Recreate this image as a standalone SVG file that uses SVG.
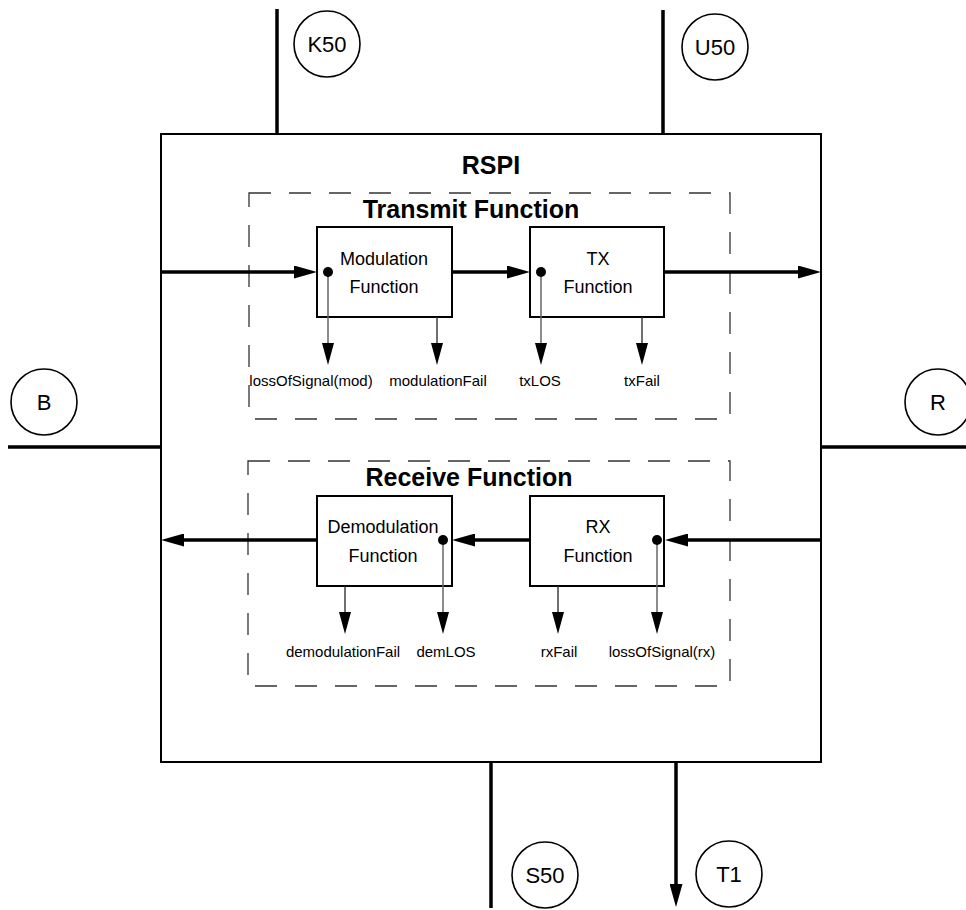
<svg xmlns="http://www.w3.org/2000/svg" width="966" height="910" viewBox="0 0 966 910">
<style>
  text { font-family: "Liberation Sans", Arial, sans-serif; fill: #000; }
  .title { font-size: 25px; font-weight: bold; text-anchor: middle; }
  .fn { font-size: 18px; text-anchor: middle; }
  .sig { font-size: 15px; text-anchor: middle; }
  .port { font-size: 22px; text-anchor: middle; }
  .main { fill: #fff; stroke: #000; stroke-width: 2; }
  .group { fill: none; stroke: #333; stroke-width: 1.3; stroke-dasharray: 22 18; }
  .box { fill: #fff; stroke: #000; stroke-width: 2; }
  .circ { fill: #fff; stroke: #000; stroke-width: 1.6; }
  .thick { stroke: #000; stroke-width: 3.5; fill: none; }
  .thin { stroke: #333; stroke-width: 1.4; fill: none; }
  .thing { stroke: #666; stroke-width: 1.5; fill: none; }
  .dot { fill: #000; }
</style>
<defs>
  <marker id="bigHead" markerUnits="userSpaceOnUse" viewBox="0 0 23 13" refX="0" refY="6.5" markerWidth="23" markerHeight="13" orient="auto">
    <path d="M0,0 L23,6.5 L0,13 z" fill="#000"/>
  </marker>
  <marker id="smallHead" markerUnits="userSpaceOnUse" viewBox="0 0 22 12" refX="0" refY="6" markerWidth="22" markerHeight="12" orient="auto">
    <path d="M0,0 L22,6 L0,12 z" fill="#000"/>
  </marker>
</defs>

<g id="rspi">
  <rect class="main" x="161" y="134" width="660" height="628"/>
  <text class="title" x="491" y="174">RSPI</text>
</g>

<g id="transmit-group">
  <rect class="group" x="249" y="193" width="481" height="226"/>
  <text class="title" x="471" y="218">Transmit Function</text>
</g>

<g id="receive-group">
  <rect class="group" x="248" y="461" width="482" height="225"/>
  <text class="title" x="469" y="486">Receive Function</text>
</g>

<g id="modulation">
  <rect class="box" x="317" y="227" width="135" height="90"/>
  <text class="fn" x="384" y="265">Modulation</text>
  <text class="fn" x="384" y="293">Function</text>
</g>

<g id="tx">
  <rect class="box" x="530" y="227" width="134" height="90"/>
  <text class="fn" x="598" y="265">TX</text>
  <text class="fn" x="598" y="293">Function</text>
</g>

<g id="demodulation">
  <rect class="box" x="317" y="496" width="135" height="90"/>
  <text class="fn" x="383" y="533">Demodulation</text>
  <text class="fn" x="383" y="562">Function</text>
</g>

<g id="rx">
  <rect class="box" x="530" y="496" width="134" height="90"/>
  <text class="fn" x="598" y="533">RX</text>
  <text class="fn" x="598" y="562">Function</text>
</g>

<g id="connectors">
  <!-- interface lines -->
  <line class="thick" x1="277" y1="9" x2="277" y2="134"/>
  <line class="thick" x1="663" y1="10" x2="663" y2="134"/>
  <line class="thick" x1="8" y1="447" x2="161" y2="447"/>
  <line class="thick" x1="821" y1="447" x2="966" y2="447"/>
  <line class="thick" x1="491" y1="762" x2="491" y2="908"/>
  <line class="thick" x1="676" y1="762" x2="676" y2="884" marker-end="url(#bigHead)"/>
  <!-- transmit chain -->
  <line class="thick" x1="161" y1="272" x2="294" y2="272" marker-end="url(#bigHead)"/>
  <line class="thick" x1="452" y1="272" x2="507" y2="272" marker-end="url(#bigHead)"/>
  <line class="thick" x1="664" y1="272" x2="798" y2="272" marker-end="url(#bigHead)"/>
  <!-- receive chain -->
  <line class="thick" x1="821" y1="540" x2="688" y2="540" marker-end="url(#bigHead)"/>
  <line class="thick" x1="530" y1="540" x2="475" y2="540" marker-end="url(#bigHead)"/>
  <line class="thick" x1="317" y1="540" x2="184" y2="540" marker-end="url(#bigHead)"/>
  <!-- transmit signal outputs -->
  <line class="thing" x1="328" y1="272" x2="328" y2="343" marker-end="url(#smallHead)"/>
  <line class="thin" x1="437" y1="317" x2="437" y2="343" marker-end="url(#smallHead)"/>
  <line class="thing" x1="541" y1="272" x2="541" y2="343" marker-end="url(#smallHead)"/>
  <line class="thin" x1="642" y1="317" x2="642" y2="343" marker-end="url(#smallHead)"/>
  <!-- receive signal outputs -->
  <line class="thin" x1="345" y1="586" x2="345" y2="612" marker-end="url(#smallHead)"/>
  <line class="thing" x1="443" y1="540" x2="443" y2="612" marker-end="url(#smallHead)"/>
  <line class="thin" x1="558" y1="586" x2="558" y2="612" marker-end="url(#smallHead)"/>
  <line class="thing" x1="657" y1="540" x2="657" y2="612" marker-end="url(#smallHead)"/>
  <!-- source dots -->
  <circle class="dot" cx="328" cy="272" r="5"/>
  <circle class="dot" cx="541" cy="272" r="5"/>
  <circle class="dot" cx="443" cy="540" r="5"/>
  <circle class="dot" cx="657" cy="540" r="5"/>
</g>

<g id="signals">
  <text class="sig" x="311" y="386">lossOfSignal(mod)</text>
  <text class="sig" x="438" y="386">modulationFail</text>
  <text class="sig" x="540" y="386">txLOS</text>
  <text class="sig" x="642" y="386">txFail</text>
  <text class="sig" x="343" y="657">demodulationFail</text>
  <text class="sig" x="446" y="657">demLOS</text>
  <text class="sig" x="559" y="657">rxFail</text>
  <text class="sig" x="662" y="657">lossOfSignal(rx)</text>
</g>

<g id="port-K50">
  <circle class="circ" cx="327" cy="44" r="33"/>
  <text class="port" x="327" y="52">K50</text>
</g>
<g id="port-U50">
  <circle class="circ" cx="715" cy="47" r="33"/>
  <text class="port" x="715" y="55">U50</text>
</g>
<g id="port-B">
  <circle class="circ" cx="44" cy="402" r="33"/>
  <text class="port" x="44" y="410">B</text>
</g>
<g id="port-R">
  <circle class="circ" cx="938" cy="402" r="33"/>
  <text class="port" x="938" y="410">R</text>
</g>
<g id="port-S50">
  <circle class="circ" cx="545" cy="875" r="33"/>
  <text class="port" x="545" y="883">S50</text>
</g>
<g id="port-T1">
  <circle class="circ" cx="729" cy="874" r="33"/>
  <text class="port" x="729" y="882">T1</text>
</g>
</svg>
